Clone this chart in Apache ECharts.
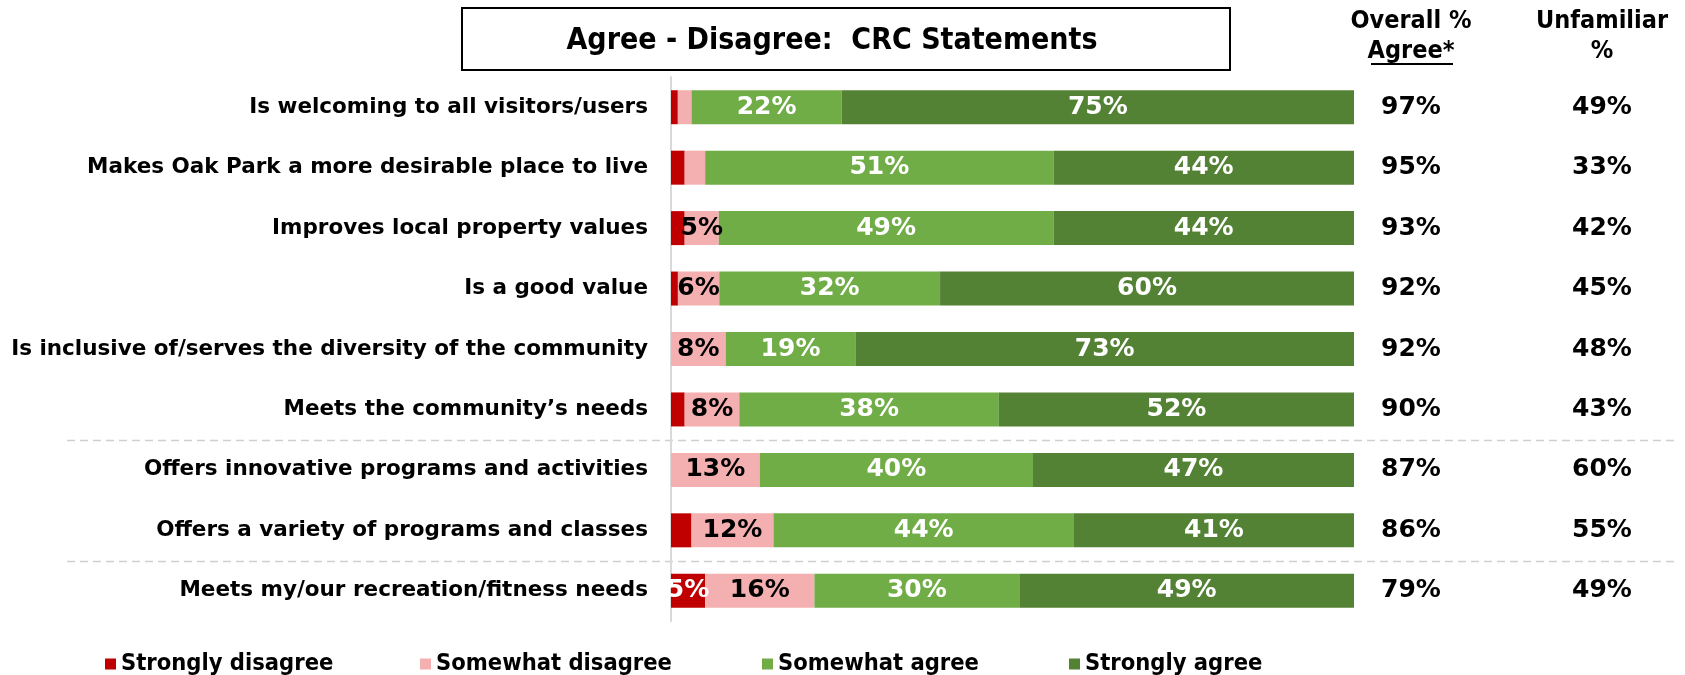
<!DOCTYPE html>
<html><head><meta charset="utf-8">
<script src="https://cdn.jsdelivr.net/npm/echarts@6/dist/echarts.min.js"></script>
<style>html,body{margin:0;padding:0;background:#fff}#c{width:1685px;height:675px}</style>
</head><body><div id="c"></div>
<script>
const categories = [
  'Is welcoming to all visitors/users',
  'Makes Oak Park a more desirable place to live',
  'Improves local property values',
  'Is a good value',
  'Is inclusive of/serves the diversity of the community',
  'Meets the community\u2019s needs',
  'Offers innovative programs and activities',
  'Offers a variety of programs and classes',
  'Meets my/our recreation/fitness needs'
];
const stronglyDisagree = [1, 2, 2, 1, 0, 2, 0, 3, 5];
const somewhatDisagree = [2, 3, 5, 6, 8, 8, 13, 12, 16];
const somewhatAgree    = [22, 51, 49, 32, 19, 38, 40, 44, 30];
const stronglyAgree    = [75, 44, 44, 60, 73, 52, 47, 41, 49];
const overallAgree     = [97, 95, 93, 92, 92, 90, 87, 86, 79];
const unfamiliar       = [49, 33, 42, 45, 48, 43, 60, 55, 49];
const seriesNames = ['Strongly disagree', 'Somewhat disagree', 'Somewhat agree', 'Strongly agree'];
const titleText = 'Agree - Disagree:  CRC Statements';

const colors = ['#C00000', '#F4B0B0', '#70AD47', '#548235'];
const labelColors = ['#fff', '#000', '#fff', '#fff'];
const raw = [stronglyDisagree, somewhatDisagree, somewhatAgree, stronglyAgree];
const totals = categories.map((c, i) => raw.reduce((s, arr) => s + arr[i], 0));

const BOLD = 'DejaVu Sans';
const COND = 'DejaVu Sans Condensed';

const series = raw.map((arr, k) => ({
  name: seriesNames[k],
  type: 'bar',
  stack: 'all',
  barWidth: 34,
  itemStyle: { color: colors[k] },
  label: {
    show: true,
    position: 'inside',
    color: labelColors[k],
    fontFamily: BOLD,
    fontWeight: 'bold',
    fontSize: 25,
    formatter: p => (p.data.raw >= 5 ? p.data.raw + '%' : '')
  },
  data: arr.map((v, i) => ({ value: v / totals[i] * 100, raw: v }))
}));

const legendLefts = [105, 420, 762, 1069];
const legends = seriesNames.map((n, k) => ({
  data: [n],
  left: legendLefts[k],
  top: 652,
  padding: 0,
  icon: 'rect',
  itemWidth: 11,
  itemHeight: 11,
  selectedMode: false,
  textStyle: { fontFamily: COND, fontWeight: 'bold', fontSize: 23.5, color: '#000', padding: [0, 0, 0, 0] }
}));

const valueAxis = (arr, margin) => ({
  type: 'category',
  inverse: true,
  data: categories,
  position: 'right',
  gridIndex: 0,
  axisLine: { show: false },
  axisTick: { show: false },
  axisLabel: {
    align: 'center',
    margin: margin,
    fontFamily: BOLD,
    fontWeight: 'bold',
    fontSize: 25,
    color: '#000',
    formatter: (v, i) => arr[i] + '%'
  }
});

const headerStyle = (t, x, y) => ({
  type: 'text', x: x, y: y,
  style: { text: t, fontFamily: COND, fontWeight: 'bold', fontSize: 25, fill: '#000', align: 'center', verticalAlign: 'middle' }
});

const baseGraphics = [
  { type: 'rect', id: 'tbox', shape: { x: 462, y: 8, width: 768, height: 62 }, style: { fill: '#fff', stroke: '#000', lineWidth: 2 } },
  { type: 'text', id: 'ttext', x: 832, y: 41, style: { text: titleText, fontFamily: COND, fontWeight: 'bold', fontSize: 30, fill: '#000', align: 'center', verticalAlign: 'middle' } },
  Object.assign({ id: 'h1' }, headerStyle('Overall %', 1411, 21)),
  Object.assign({ id: 'h2' }, headerStyle('Agree*', 1411, 51)),
  Object.assign({ id: 'h3' }, headerStyle('Unfamiliar', 1602, 21)),
  Object.assign({ id: 'h4' }, headerStyle('%', 1602, 51)),
  { type: 'line', id: 'ul', shape: { x1: 1371, y1: 64, x2: 1453, y2: 64 }, style: { stroke: '#000', lineWidth: 2 } }
];

const option = {
  animation: false,
  backgroundColor: '#fff',
  grid: { left: 671, right: 331, top: 77, bottom: 54, outerBoundsMode: 'none', containLabel: false },
  xAxis: { type: 'value', min: 0, max: 100, show: false },
  yAxis: [
    {
      type: 'category',
      inverse: true,
      data: categories,
      axisLine: { show: true, lineStyle: { color: '#d9d9d9', width: 2 } },
      axisTick: { show: false },
      axisLabel: { fontFamily: BOLD, fontWeight: 'bold', fontSize: 21.5, color: '#000', margin: 23 }
    },
    valueAxis(overallAgree, 57),
    valueAxis(unfamiliar, 248)
  ],
  legend: legends,
  series: series,
  graphic: { elements: baseGraphics }
};

const chart = echarts.init(document.getElementById('c'));
chart.setOption(option);

// dashed separators between groups
const sepAfter = [5, 7];
const seps = sepAfter.map((i, k) => {
  const a = chart.convertToPixel({ yAxisIndex: 0 }, categories[i]);
  const b = chart.convertToPixel({ yAxisIndex: 0 }, categories[i + 1]);
  const y = Math.round((a + b) / 2) + 0.5;
  return { type: 'line', id: 'sep' + k, shape: { x1: 67, y1: y, x2: 1676, y2: y }, style: { stroke: '#cfcfcf', lineWidth: 1.5, lineDash: [8, 5] } };
});
chart.setOption({ graphic: { elements: baseGraphics.concat(seps) } });
</script>
</body></html>
